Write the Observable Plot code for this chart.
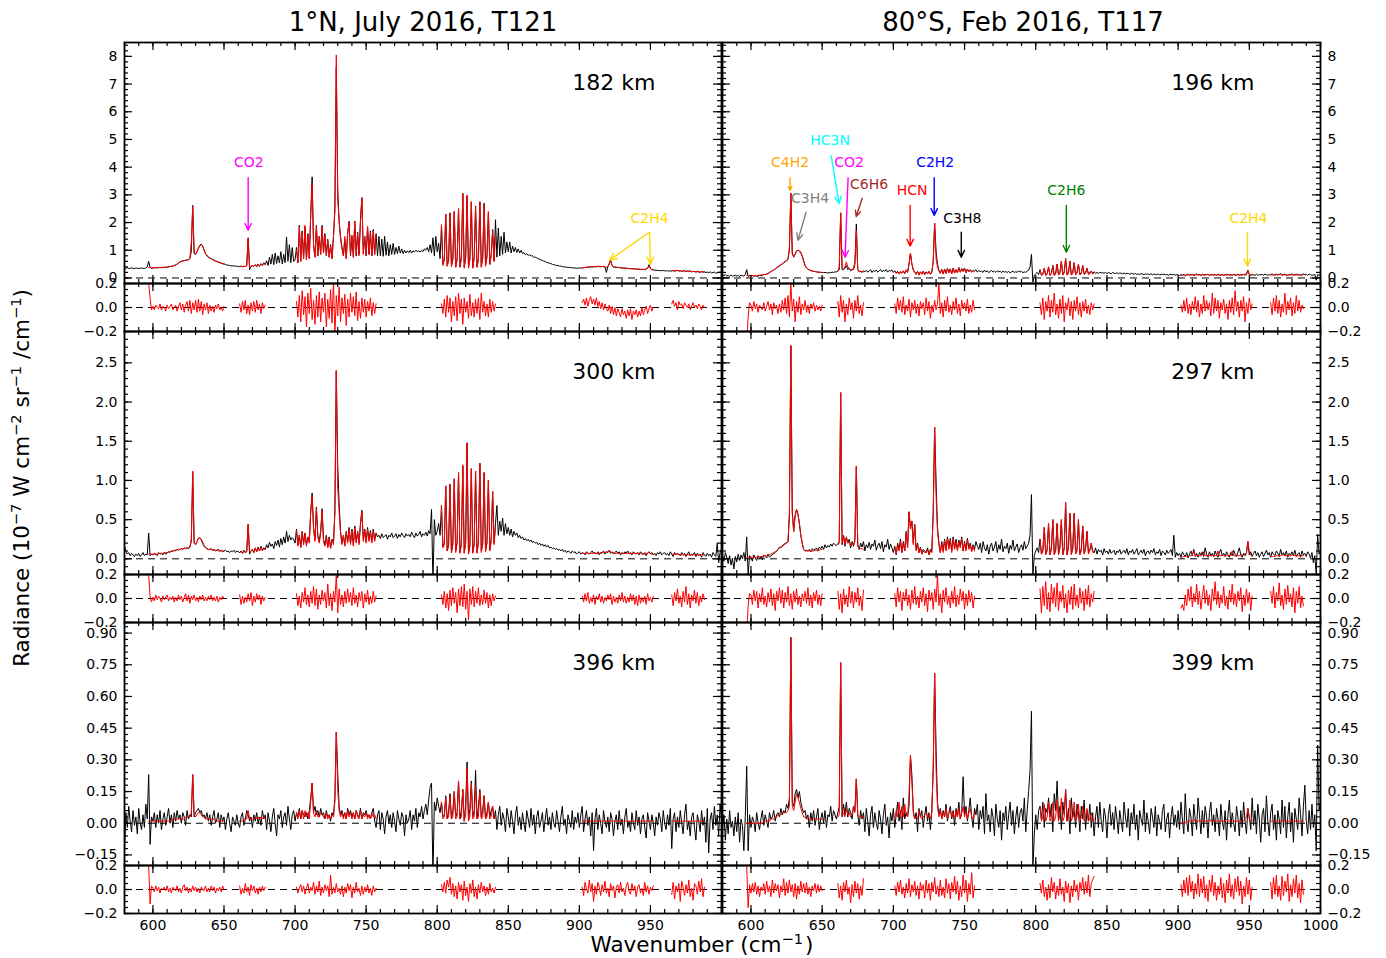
<!DOCTYPE html>
<html><head><meta charset="utf-8">
<script src="https://cdn.jsdelivr.net/npm/d3@7"></script>
<script src="https://cdn.jsdelivr.net/npm/@observablehq/plot@0.6"></script>
<style>
body{margin:0;background:#fff;font-family:"DejaVu Sans",sans-serif;color:#000;}
#fig{position:relative;width:1386px;height:958px;overflow:hidden;background:#fff;}
.lbl{position:absolute;white-space:nowrap;line-height:1;transform:translate(-50%,-50%);}
.lbl sup{font-size:0.68em;vertical-align:0.55em;line-height:0;}
</style></head>
<body><div id="fig"></div>
<script>
// ---------- axes / labels ----------
const X_DOMAIN = [580, 1000];
const X_MAJOR = [600,650,700,750,800,850,900,950,1000];
const X_LABELS_LEFT = [600,650,700,750,800,850,900,950];
const X_LABELS_RIGHT = [600,650,700,750,800,850,900,950,1000];
const Y_DOMAINS = [[-0.2,8.5],[-0.2,2.9],[-0.2,0.95]];
const Y_TICKS_ROW = [[0,1,2,3,4,5,6,7,8],[0,0.5,1,1.5,2,2.5],[-0.15,0,0.15,0.30,0.45,0.60,0.75,0.90]];
const RES_DOMAIN = [-0.2,0.2];
const RES_TICKS = [-0.2,0,0.2];
const TITLES = ["1°N, July 2016, T121","80°S, Feb 2016, T117"];
const ALT_LEFT = ["182 km","300 km","396 km"];
const ALT_RIGHT = ["196 km","297 km","399 km"];
// fitted spectral windows (cm-1)
const WINDOWS = [[597,650],[661,679],[701,757],[803,841],[902,952],[965,988]];
const SCALE = 0.01; // arrays below are radiance in units of 0.01 (1e-7 W cm-2 sr-1 /cm-1), one value per cm-1 from 580

// ---------- 1N 182 km ----------
const OBS_182 = [
/*580*/36,35,37,34,35,36,35,34,36,35, 34,35,36,35,34,36,40,60,38,35,
/*600*/36,37,37,36,38,37,38,37,38,38, 39,40,41,42,43,45,47,50,54,58,
/*620*/60,62,63,64,65,66,70,95,262,88, 85,95,108,118,122,115,100,88,80,75,
/*640*/72,70,67,64,62,60,58,56,54,52, 51,49,47,46,45,44,44,43,43,42,
/*660*/42,41,43,40,42,41,45,145,30,42, 44,42,48,40,50,42,52,45,55,48,
/*680*/62,45,75,50,85,48,90,52,80,55, 95,50,85,55,148,60,120,55,110,60,
/*700*/65,110,55,190,60,170,70,185,65,160, 70,230,365,120,75,190,80,150,85,190,
/*720*/90,160,80,140,75,120,70,150,250,760, 325,200,150,110,80,140,70,160,205,80,
/*740*/150,75,205,80,165,85,210,290,90,150, 80,185,85,170,80,175,85,160,80,150,
/*760*/80,140,78,150,82,130,80,120,85,125, 85,110,88,115,90,105,88,100,90,98,
/*780*/92,100,90,98,94,100,95,98,94,100, 95,105,100,110,95,120,90,145,80,150,
/*800*/95,125,70,190,50,70,230,45,65,235, 45,70,240,40,70,250,40,75,305,40,
/*820*/75,295,40,70,275,38,75,260,40,70, 275,40,75,270,45,80,235,50,85,175,
/*840*/60,210,75,180,80,150,85,165,90,130, 95,130,90,115,95,110,92,105,90,100,
/*860*/88,92,84,88,81,84,79,80,75,75, 73,69,68,65,63,61,60,56,55,53,
/*880*/52,49,48,47,45,45,43,43,41,40, 40,39,38,38,37,37,36,36,35,36,
/*900*/36,35,37,36,38,37,38,39,40,39, 40,41,40,42,41,40,42,41,40,20,
/*920*/40,50,65,45,40,38,39,37,38,36, 37,35,36,34,35,34,33,34,33,32,
/*940*/33,31,32,31,30,31,30,32,35,48, 35,30,29,28,27,28,26,27,26,27,
/*960*/26,25,27,24,26,25,27,24,26,27, 25,26,24,25,27,23,25,24,26,22,
/*980*/24,23,21,24,22,20,23,21,22,20, 21,19,22,18,20,21,17,19,20,22,
/*1000*/20];
const MODEL_182 = [
 [37,37,37, 37,37,37,37,38,38,38,38,39,39, 40,40,41,42,43,45,47,50,54,58, 60,61,62,63,64,66,70,130,258,92, 86,94,106,116,120,115,102,90,82,76, 72,69,66,63,61,59,57,55,53,51, 50],
 [41,42,41,42,42,44,142,36,42, 44,43,47,42,49,44,50,46,53,48],
 [100,55,185,60,165,70,190,65,155, 70,225,340,115,75,185,80,150,85,185, 90,155,80,135,75,115,70,145,240,805, 280,210,140,105,80,150,70,165,200,85, 155,75,205,85,160,80,200,290,85,150, 80,185,85,165,80,170,85,155],
 [192,45,65,230,42,60,235, 40,65,240,38,65,250,38,70,305,35, 70,300,35,68,275,35,70,255,38,65, 275,38,70,265,42,75,240,48,80,170, 60,150],
 [37,38,38,39,40,40,41,41, 41,42,42,42,42,42,41,41,40,38, 42,52,62,45,41,40,39,38,38,37, 37,36,36,35,35,34,34,33,33,33, 32,32,32,31,31,31,31,32,34,44, 34,30,29],
 [26,26,27,28,27,26,26,25,25,25,24,24,24,24,23,23,23,23,22,22,22,22,22,22]];
const RESID_182 = [
 [20,8,-2, 1,-2,2,0,-1,3,-2,1,0,-3, 2,-1,1,3,-2,0,2,-3,1,4, -2,3,-4,2,5,-3,6,-5,4,-2, 6,-4,7,-3,5,-6,3,-2,4,-5, 2,-3,1,-4,2,-1,3,-2,0,-3, 1],
 [3,-4,5,-2,6,-5,2,-6,4,-3, 5,-4,6,-2,3,-5,4,-1,2],
 [5,-8,10,-12,14,-6,9,-16,12,-5, 16,-10,6,-14,10,-8,13,-12,8,-4, 12,-16,7,-9,15,-13,22,-24,10,-7, 17,-12,8,-5,11,-15,7,-8,12,-4, 9,-7,13,-11,5,-9,8,-4,7,-8, 5,-3,8,-7,4,-5,3],
 [3,-5,7,-8,10,-4,8,-12,5,-7, 9,-11,12,-5,7,-14,8,-4,5,-9, 11,-7,4,-8,7,-5,8,-10,12,-4, 5,-7,3,-8,7,-4,5,-3,3],
 [4,7,2,8,1,6,9,3,7,2, 8,1,5,-1,4,-2,3,-1,-3,2, -5,1,-6,0,-7,-1,-4,-8,-1,-6, -3,-9,-2,-7,-1,-10,-3,-6,-2,-8, -3,-7,0,-6,-2,1,-5,-1,2,-3, 0],
 [3,6,1,4,-2,5,2,3,-1,4,2,0,3,-2,1,4,0,2,-1,3,1,-2,2,0]];

// ---------- 80S 196 km ----------
const OBS_196 = [
/*580*/10,8,12,7,9,5,11,6,8,10, 7,9,6,10,8,7,12,30,6,8,
/*600*/7,9,6,8,5,7,9,8,10,12, 12,14,16,20,23,26,29,32,36,40,
/*620*/43,47,51,55,58,62,68,100,305,90, 75,85,98,100,98,92,80,62,45,36,
/*640*/32,29,27,25,24,23,22,21,21,20, 20,19,20,19,18,20,19,21,20,22,
/*660*/22,25,30,235,30,30,35,45,30,35, 26,30,30,50,195,30,22,24,20,26,
/*680*/22,28,21,25,30,20,27,23,29,21, 26,31,22,28,24,30,21,27,25,29,
/*700*/20,26,18,24,15,22,17,25,16,28, 20,50,90,50,30,22,16,24,12,22,
/*720*/15,25,13,22,16,24,14,21,60,198, 95,50,28,18,30,15,32,17,35,20,
/*740*/33,16,36,18,30,20,38,22,34,25, 36,20,32,24,30,22,28,25,30,21,
/*760*/27,23,25,20,28,22,26,19,24,27, 21,25,20,26,22,24,19,25,21,23,
/*780*/20,24,18,22,25,19,23,20,26,21, 24,19,22,20,25,28,40,85,-15,10,
/*800*/15,20,12,30,10,14,35,10,15,40, 10,16,45,10,18,50,12,20,60,12,
/*820*/22,70,12,20,60,12,20,55,14,20, 50,14,18,45,15,20,35,16,20,25,
/*840*/18,22,17,20,16,21,18,19,17,20, 16,19,18,15,20,17,16,19,15,18,
/*860*/17,15,18,14,17,16,13,17,15,14, 16,13,15,12,16,14,12,15,13,14,
/*880*/12,15,11,14,13,12,15,11,13,12, 14,11,13,10,12,14,11,13,10,12,
/*900*/11,9,12,10,13,8,11,14,10,12, 13,9,11,15,10,12,9,13,11,10,
/*920*/12,14,9,11,13,10,12,9,14,11, 10,13,9,12,11,14,10,12,9,13,
/*940*/11,10,14,9,12,11,13,10,12,28, 12,10,13,11,9,14,10,12,11,13,
/*960*/10,14,12,9,13,11,15,10,12,14, 11,13,16,10,12,14,11,9,13,12,
/*980*/15,10,12,14,11,13,9,12,15,11, 13,10,14,12,9,11,13,-8,12,10,
/*1000*/12];
const MODEL_196 = [
 [10,9,9, 8,8,8,9,9,10,10,11,11,12, 13,14,16,19,22,26,29,33,37,41, 44,48,52,56,60,64,70,110,305,85, 76,86,97,100,97,90,78,60,45,37, 32,29,27,25,24,23,22,21,21,20, 20],
 [24,40,235,40,35,40,58,40,35, 30,30,35,60,170,30,25,24,23,22],
 [24,16,22,14,24,18,26,15,30, 22,50,90,52,28,20,12,24,10,22, 13,24,12,20,14,22,13,20,60,198, 70,40,25,16,32,14,30,16,34,18, 32,15,34,17,30,18,36,20,32,22, 34,18,30,22,28,20,26,22],
 [30,10,12,35,9,13,40, 9,14,45,9,15,50,10,16,60,10, 18,70,10,16,60,10,16,55,11,16, 50,11,15,45,12,16,35,12,14,25, 14,18],
 [10,10,10,10,11,11,11,11, 11,12,11,11,12,11,11,11,12,13, 12,12,11,11,11,11,12,11,11,11, 11,11,11,12,11,11,11,11,11,11, 11,11,11,11,11,11,12,13,16,27, 13,11,11],
 [11,11,11,11,11,11,12,11,11,11,11,11,11,11,11,11,11,11,11,11,11,11,11,11]];
const RESID_196 = [
 [-30,-8,4, 2,-3,5,-1,3,-4,2,0,-2,4, -3,1,5,-2,3,-6,4,-1,2,-5, 3,-4,6,-2,8,-5,10,-8,20,-3, 7,-12,5,-4,9,-6,3,-2,6,-4, 2,-5,3,-1,4,-3,2,-2,1,-3, 2],
 [5,-8,10,-4,6,-12,3,-6,8,-2, 4,-9,6,-3,10,-5,2,-7,4],
 [3,-5,8,-2,6,-4,9,-6,2,-3, 7,-8,4,-2,6,-5,3,-7,5,-1, 4,-6,8,-3,5,-9,2,-4,6,-2, 3,20,-5,4,-8,6,-3,9,-4,2, -6,5,-2,8,-5,3,-7,6,-1,4, -3,7,-5,2,-4,6,-2],
 [4,-6,8,-10,5,-3,10,-8,6,-4, 12,-6,3,-9,7,-5,10,-12,4,-2, 8,-7,5,-10,6,-3,9,-6,4,-8, 5,-3,7,-5,2,-6,4,-2,3],
 [2,-4,6,-3,8,-5,3,-6,5,-2, 9,-4,6,-8,3,-5,10,-3,6,-2, 4,-7,12,-5,8,-3,6,-9,4,-2, 7,-5,3,-10,6,-4,8,-6,14,-3, 5,-8,6,-3,9,-12,4,-5,8,-2, 3],
 [4,-6,8,-3,10,-5,6,-8,3,-4, 12,-6,5,-2,8,-7,4,-5,10,-3,6,-4,2,-1]];

// ---------- 1N 300 km ----------
const OBS_300 = [
/*580*/16,10,6,8,4,7,5,3,6,4, 7,3,5,8,4,6,5,33,4,6,
/*600*/5,7,6,4,8,6,7,5,8,6, 7,9,8,10,9,11,10,12,11,12,
/*620*/13,12,14,13,14,13,15,22,110,20, 18,22,26,27,24,20,16,14,13,12,
/*640*/12,13,11,12,10,11,12,10,11,9, 10,11,9,10,8,10,9,11,8,10,
/*660*/9,8,10,7,11,8,9,44,6,10, 12,8,14,9,15,10,16,11,14,12,
/*680*/18,14,21,16,19,13,22,17,24,15, 26,18,28,20,35,22,30,24,27,25,
/*700*/20,38,18,30,15,35,20,33,18,28, 22,60,84,40,25,66,30,22,35,64,
/*720*/25,18,30,15,28,14,25,20,60,240, 120,70,35,20,30,18,35,22,40,20,
/*740*/38,18,42,22,35,20,45,62,25,38, 22,40,24,36,22,38,25,33,28,30,
/*760*/26,32,27,29,31,25,30,28,33,27, 29,32,26,31,28,33,30,27,32,29,
/*780*/31,28,34,30,27,33,29,31,35,28, 32,30,34,29,36,32,63,-30,50,30,
/*800*/35,45,30,68,15,20,93,10,18,95, 8,20,102,10,22,110,8,20,118,8,
/*820*/22,148,6,18,115,8,20,112,8,22, 122,10,20,110,10,22,100,12,25,86,
/*840*/20,45,68,30,48,35,52,30,45,32, 40,30,38,28,35,30,33,27,30,26,
/*860*/28,24,26,23,25,22,24,21,22,20, 21,18,20,17,19,16,18,15,17,14,
/*880*/15,13,14,12,13,11,12,10,12,9, 11,8,10,9,7,10,8,9,6,8,
/*900*/9,6,8,7,5,9,7,6,8,10, 7,8,6,9,5,8,7,10,6,9,
/*920*/8,11,7,9,6,8,10,7,9,5, 8,6,9,7,10,6,8,5,9,7,
/*940*/6,8,5,9,7,6,8,4,7,9, 6,8,5,7,4,8,6,9,5,7,
/*960*/8,5,7,4,9,6,3,8,5,7, 6,4,8,5,7,3,6,9,4,6,
/*980*/5,8,3,7,4,6,2,8,5,3, 7,4,6,2,8,5,3,20,-5,8,
/*1000*/12];
const MODEL_300 = [
 [6,6,6, 6,6,6,6,7,7,7,7,8,8, 8,9,9,10,10,11,11,12,12,12, 13,13,13,13,14,14,15,25,112,20, 18,22,26,27,25,21,17,15,13,12, 12,12,11,11,11,11,10,10,10,10, 10],
 [8,9,8,9,9,10,44,8,10, 12,8,14,9,14,10,15,10,13,12],
 [36,16,30,14,34,18,33,16,28, 20,60,80,38,22,64,28,20,32,62, 22,16,28,14,26,13,24,18,58,240, 90,60,32,18,30,16,34,20,38,18, 36,16,40,20,34,18,44,60,22,36, 20,38,22,34,20,36,22,32],
 [66,14,18,93,10,16,95, 8,18,102,8,20,110,7,18,120,7, 20,148,6,16,115,7,18,112,7,20, 122,8,18,110,9,20,100,10,22,86, 18,40],
 [7,7,7,7,7,7,7,7, 7,7,7,7,7,8,8,8,8,9, 9,10,9,8,8,7,7,7,7,7, 7,7,7,7,7,7,7,7,7,7, 7,7,7,7,6,6,6,7,7,9, 7,6,6],
 [6,6,6,6,6,5,5,5,5,5,5,5,5,5,5,5,5,5,5,5,5,5,5,5]];
const RESID_300 = [
 [20,2,-3, 1,-2,3,-1,2,0,-3,2,-1,1, 3,-2,1,-1,2,-3,1,-2,3,-1, 2,-3,1,4,-2,3,-4,2,-1,3, -2,1,-3,2,-1,3,-2,1,-2,2, -1,3,-2,1,-2,2,-3,1,-1,2, 0],
 [3,-5,2,-4,1,-3,4,-2,5,-6, 2,-3,4,-1,3,-5,2,-2,1],
 [4,-6,2,-8,5,-3,9,-5,3,-7, 6,-4,10,-6,8,-9,3,-5,7,-2, 5,-8,12,-6,4,-10,6,-3,20,-12, 8,-5,3,-7,6,-4,8,-3,5,-6, 9,-4,3,-7,5,-2,6,-8,4,-3, 7,-5,2,-4,6,-3,2],
 [3,-5,6,-8,4,-10,7,-6,9,-4, 5,-12,8,-6,10,-7,12,-9,6,-18, 8,-5,10,-7,6,-4,9,-6,3,-5, 7,-4,5,-8,3,-6,4,-2,2],
 [2,-3,4,-2,5,-4,1,-3,3,-5, 2,-1,4,-3,2,-4,1,-2,3,-1, 4,-5,2,-3,1,-4,3,-2,5,-3, 2,-4,1,-3,4,-2,3,-5,2,-6, 3,-4,1,-3,2,-5,4,-2,1,-3, 2],
 [3,-6,5,-2,8,-4,2,-7,6,-3,10,-5,4,-8,3,-2,7,-4,5,-6,2,-3,4,-1]];

// ---------- 80S 297 km ----------
const OBS_297 = [
/*580*/5,-3,8,2,-6,4,-8,1,-13,3, -4,6,-2,5,0,8,-3,28,-20,4,
/*600*/2,-3,5,1,-2,4,0,3,-1,5, 3,1,6,2,4,5,7,8,10,12,
/*620*/15,14,17,18,20,20,22,55,272,60, 35,55,63,57,45,30,20,12,10,11,
/*640*/10,12,9,13,11,12,14,10,15,13, 16,12,18,14,17,15,19,16,20,18,
/*660*/17,19,22,212,18,30,16,28,20,25, 14,22,16,25,118,18,12,20,15,22,
/*680*/10,18,14,21,12,19,16,24,11,17, 20,13,22,9,18,15,25,12,19,14,
/*700*/8,16,5,20,12,25,8,22,10,35, 15,60,40,48,20,44,12,20,8,15,
/*720*/6,12,10,8,14,5,12,9,60,168, 98,40,20,8,22,10,25,12,28,15,
/*740*/26,10,28,14,25,12,24,16,28,10, 22,12,26,14,20,10,18,12,22,16,
/*760*/12,20,8,22,14,10,18,6,16,20, 10,15,22,8,18,12,25,9,16,13,
/*780*/20,7,17,12,24,10,15,19,8,14, 18,11,22,13,16,20,30,82,-22,5,
/*800*/10,14,8,25,6,10,40,6,12,45, 5,14,50,6,12,45,6,16,50,5,
/*820*/14,72,5,16,58,6,14,58,7,12, 50,6,12,42,7,14,35,8,12,20,
/*840*/10,8,14,6,12,9,11,5,13,8, 10,6,12,7,9,11,5,10,8,12,
/*860*/6,9,11,7,13,5,10,8,12,6, 9,13,5,8,11,7,12,4,9,10,
/*880*/6,11,8,13,5,9,7,12,4,10, 8,5,11,7,9,12,4,30,2,8,
/*900*/4,7,2,9,5,3,8,1,6,10, 4,12,3,7,2,8,5,9,3,14,
/*920*/6,2,9,4,7,3,10,5,2,8, 12,4,7,3,9,5,2,8,4,11,
/*940*/6,3,9,14,5,2,7,4,8,22, 5,9,3,7,10,4,8,2,6,9,
/*960*/3,7,11,5,8,2,9,6,4,10, 7,3,12,5,8,4,10,2,7,5,
/*980*/9,4,11,3,6,8,2,10,5,7, 3,9,6,1,8,-5,4,-20,31,6,
/*1000*/10];
const MODEL_297 = [
 [2,2,2, 2,2,2,2,2,3,3,3,3,4, 4,4,5,5,6,7,8,9,10,12, 14,15,16,17,19,20,22,60,272,58, 35,55,63,57,45,30,20,12,10,10, 10,10,10,10,10,11,11,11,11,12, 12],
 [18,20,212,20,30,18,28,20,22, 16,20,18,22,118,16,14,13,13,12],
 [14,6,18,10,22,8,20,10,34, 14,60,38,48,18,44,10,18,8,14, 6,10,8,8,12,5,10,8,58,168, 80,35,18,8,20,8,24,10,26,12, 24,8,26,12,22,10,22,14,26,10, 20,10,24,12,18,9,16,10],
 [25,6,10,40,5,10,45, 5,12,50,5,10,45,5,14,50,5, 12,72,5,14,58,5,12,58,6,10, 50,5,10,42,6,12,35,6,10,20, 8,8],
 [2,2,3,3,3,3,4,4, 5,10,4,4,4,4,4,5,9,4, 4,4,4,4,4,4,4,4,10,4, 4,4,4,4,4,4,4,4,10,4, 4,4,4,4,5,5,5,6,8,22, 8,5,4],
 [3,3,3,3,4,4,4,4,5,5,4,4,4,4,4,5,5,4,4,4,4,4,4,4]];
const RESID_297 = [
 [-30,-6,4, 3,-5,7,-2,6,-8,4,-3,9,-5, 2,-7,5,-3,8,-6,4,-10,6,-2, 9,-4,7,-8,5,-3,10,-6,4,-9, 6,-3,8,-5,2,-7,4,-2,6,-4, 9,-6,3,-8,5,-2,7,-5,3,-6, 4],
 [6,-9,4,-12,8,-5,3,-7,10,-4, 6,-8,5,-3,9,-6,2,-10,7],
 [4,-7,9,-3,6,-10,5,-2,8,-6, 3,-9,7,-4,10,-5,2,-8,6,-3, 9,-6,4,-11,7,-2,5,-9,8,-3, 20,-6,4,-12,7,-3,9,-5,2,-8, 6,-4,10,-7,3,-5,8,-2,6,-9, 4,-6,7,-3,5,-8,2],
 [8,-12,10,-6,14,-9,5,-11,12,-4, 9,-7,13,-10,6,-3,11,-8,4,-12, 7,-5,10,-9,12,-6,3,-8,9,-4, 6,-10,8,-5,11,-7,4,-3,6],
 [-8,-5,-10,3,-6,8,-2,10,-7,4, -3,12,-5,6,-9,2,11,-4,7,-6, 3,-10,8,-2,14,-5,6,-8,3,-4, 10,-6,2,-9,7,-3,12,-5,4,-7, 6,-2,9,-11,3,-6,8,-4,5,-10, 2],
 [6,-4,10,-8,5,-2,13,-6,3,-9,8,-5,11,-3,4,-7,9,-12,6,-4,10,-8,2,-6]];

// ---------- 1N 396 km ----------
const OBS_396 = [
/*580*/-13,5,-2,8,1,-4,6,-1,3,-5, 7,0,-3,4,-2,9,2,23,-10,3,
/*600*/1,5,-2,4,0,6,-3,2,5,-1, 3,7,0,4,-2,5,1,6,2,4,
/*620*/0,5,3,-1,6,2,4,3,23,3, 5,6,7,5,6,3,4,2,5,1,
/*640*/4,-1,3,6,0,2,5,-2,4,1, 3,-3,2,5,0,-4,3,1,-1,4,
/*660*/0,-2,3,5,-1,2,6,4,1,3, -2,4,1,5,0,3,-1,6,2,4,
/*680*/-3,5,1,-4,3,7,0,-6,4,2, 6,-2,3,5,-1,8,2,-3,4,6,
/*700*/1,5,3,7,2,6,4,3,5,2, 6,12,19,5,8,4,6,3,7,4,
/*720*/5,2,6,3,4,1,5,3,12,43, 24,8,4,6,3,5,2,7,4,6,
/*740*/3,5,2,6,4,3,7,2,5,4, 6,3,4,2,5,7,1,-2,4,6,
/*760*/-3,5,2,-5,3,6,0,4,-2,5, 1,-4,6,2,-1,5,3,-6,4,0,
/*780*/2,6,-3,4,1,7,-2,5,3,8, 2,6,9,4,11,17,19,-25,10,6,
/*800*/12,8,5,10,3,4,13,2,5,14, 2,6,15,3,5,20,2,6,16,1,
/*820*/8,29,2,7,20,3,6,25,2,8, 16,3,6,13,2,5,10,3,6,8,
/*840*/2,6,-3,4,8,-1,5,2,-4,7, 3,-2,6,1,-5,4,8,-1,3,-3,
/*860*/5,0,-4,6,2,-2,7,-1,4,-5, 3,6,-2,1,5,-4,2,7,-1,3,
/*880*/-3,5,0,-2,6,1,-4,3,8,-1, 2,-5,4,1,-2,6,-3,3,0,5,
/*900*/-2,4,8,-4,2,6,-1,3,-6,5, -13,2,7,-3,4,0,-5,6,1,-2,
/*920*/3,-4,5,2,-6,1,4,-3,6,-1, 2,-5,3,7,-2,1,-4,5,0,-3,
/*940*/6,-1,3,-5,2,4,-2,-7,5,1, -3,4,0,-6,3,-1,5,2,-4,6,
/*960*/0,-3,4,-1,7,-12,2,5,-4,3, -2,6,0,-5,4,9,-3,1,-6,3,
/*980*/5,-2,-8,4,1,-4,6,-1,3,-9, 7,-14,2,5,-3,8,-1,4,-6,9,
/*1000*/2];
const MODEL_396 = [
 [1,1,1, 1,1,1,1,1,1,1,1,1,1, 1,1,1,1,2,2,2,2,2,2, 2,2,2,3,3,3,3,5,23,4, 3,4,5,5,4,3,3,2,2,2, 2,2,2,2,1,1,1,1,1,1, 1],
 [1,1,1,2,2,2,6,2,2, 2,2,3,2,3,2,3,2,3,2],
 [5,2,6,2,6,2,6,3,5, 2,10,19,5,3,6,3,3,5,4, 3,2,5,2,4,2,4,3,10,43, 16,6,3,5,2,5,2,6,3,5, 2,5,2,6,3,2,6,2,4,3, 5,2,4,2,5,3,4,2],
 [10,2,3,12,2,3,13, 2,3,15,2,3,20,2,3,16,1, 4,26,1,3,19,2,3,17,2,3, 15,2,3,13,2,3,10,2,3,8, 2,3],
 [1,1,1,1,1,1,1,1, 1,1,1,1,1,1,1,1,1,1, 1,1,1,1,1,1,1,1,1,1, 1,1,1,1,1,1,1,1,1,1, 1,1,1,1,1,1,1,1,1,1, 1,1,1],
 [1,1,1,1,1,1,1,1,1,1,1,1,1,1,1,1,1,1,1,1,1,1,1,1]];
const RESID_396 = [
 [20,-12,3, 1,-2,3,-1,2,-3,1,0,2,-1, 3,-2,1,-3,2,0,-1,3,-2,1, -3,2,4,-1,2,-3,1,-2,3,-1, 2,-2,1,-3,2,0,-1,3,-2,1, -2,3,-1,2,-3,1,-1,2,-2,3, 0],
 [3,-4,1,-3,5,-2,2,-5,4,-1, 3,-3,1,-4,2,-2,3,-1,2],
 [2,-3,1,4,-2,3,-4,1,5,-3, 2,-1,6,-4,3,-2,7,-5,2,-3, 4,-1,3,-6,12,-4,2,-3,5,-2, 1,-4,3,-6,2,-3,5,-1,4,-7, 2,-3,6,-2,1,-5,3,-4,2,-2, 4,-3,1,-5,3,-2,1],
 [4,-2,6,-3,8,2,10,-4,5,-6, 3,-8,6,-2,4,-9,7,-5,2,-10, 5,-3,8,-6,2,-8,4,-3,6,-2, 3,-5,2,-4,5,-2,1,-3,2],
 [2,-5,6,1,-3,8,-2,5,-10,3, -4,6,2,-5,4,-2,7,-3,1,-6, 5,-1,3,-7,2,4,-3,6,-2,1, -5,3,6,-2,-4,5,-1,3,-6,2, 4,-3,1,-5,6,-2,3,-4,2,-1, 3],
 [-4,6,-8,3,-2,5,-10,7,2,-5,4,-3,8,-6,1,-9,5,3,-4,7,-2,9,-6,2]];

// ---------- 80S 399 km ----------
const OBS_399 = [
/*580*/-3,4,-8,2,-5,6,-2,1,-6,3, -4,5,-9,2,-1,-13,3,27,-13,4,
/*600*/-2,3,1,-4,5,0,-3,2,6,-1, 4,1,-2,5,2,3,6,1,4,5,
/*620*/3,7,4,6,5,9,7,12,88,10, 8,14,16,12,15,10,7,5,6,2,
/*640*/4,-2,5,1,6,-1,3,7,-3,2, 5,0,6,-2,4,3,8,1,6,4,
/*660*/2,5,8,76,3,9,4,10,3,7, 5,2,8,6,21,4,-1,6,2,5,
/*680*/-4,7,1,-6,4,8,-2,5,0,-3, 6,2,-5,4,9,-1,3,-7,5,1,
/*700*/7,-2,4,10,1,6,-3,12,2,5, 3,8,32,23,6,2,5,-4,7,3,
/*720*/6,-2,4,8,1,5,-3,6,26,71, 35,10,4,7,2,6,3,9,1,5,
/*740*/8,2,6,-1,7,3,10,2,5,22, 4,8,1,6,12,3,-2,7,4,9,
/*760*/-3,6,2,8,-5,14,1,4,-4,7, 3,-6,9,2,-2,6,-8,5,1,8,
/*780*/-3,4,10,-1,6,-5,3,8,-2,5, 7,1,12,-4,6,15,25,53,-22,-5,
/*800*/4,-3,6,8,2,10,-2,7,5,12, 3,9,-4,14,6,20,2,8,-3,10,
/*820*/4,16,1,7,-5,12,3,6,-2,9, 5,-4,8,2,11,-3,6,1,9,-2,
/*840*/5,-6,3,8,-2,10,1,-4,7,3, -7,4,9,-1,5,-3,8,2,-5,6,
/*860*/1,-4,10,3,-2,7,-6,5,0,9, -3,4,-8,6,2,-1,11,-4,5,1,
/*880*/-5,7,3,-2,8,-6,4,1,-3,6, 9,-4,2,5,-7,3,8,-1,4,-2,
/*900*/6,-3,10,2,-5,14,1,-4,7,3, -6,9,2,-3,12,4,-5,6,-2,8,
/*920*/3,-7,5,10,-1,4,-4,7,2,-6, 9,1,-3,6,-8,4,11,-2,5,0,
/*940*/-4,8,3,-6,6,-2,10,1,-5,7, 3,-3,12,-1,6,-5,9,2,-9,4,
/*960*/7,-4,13,1,-6,5,9,-3,4,-8, 6,2,-5,11,-2,8,-7,3,10,-4,
/*980*/5,-9,7,2,-3,12,4,-6,8,18, 1,-5,6,-3,9,-2,4,-13,37,6,
/*1000*/10];
const MODEL_399 = [
 [0,0,0, 0,0,0,0,0,0,0,0,0,1, 1,1,1,1,2,2,2,3,3,4, 4,4,5,5,5,5,6,8,88,8, 6,10,14,12,10,7,5,3,3,2, 2,2,2,2,2,2,2,2,2,2, 2],
 [3,4,76,4,5,3,7,4,5, 3,4,8,5,21,4,3,3,3,3],
 [2,6,3,10,2,8,3,9,4, 3,14,32,20,5,2,3,2,6,3, 2,3,4,5,3,4,2,5,26,71, 25,8,3,6,2,5,3,7,2,5, 6,3,5,2,6,3,7,2,5,8, 3,6,2,5,7,3,2,5],
 [8,1,3,9,1,3,10, 1,3,10,1,3,11,1,4,12,1, 3,16,1,3,11,1,3,10,1,3, 9,1,3,8,1,3,7,1,2,5, 1,2],
 [0,0,0,0,1,1,1,1, 1,1,2,1,1,1,1,1,1,1, 1,1,2,1,1,1,1,1,1,1, 1,1,1,1,2,1,1,1,1,1, 1,1,1,1,1,1,1,2,3,7, 2,1,1],
 [1,1,1,1,1,1,1,1,1,1,2,1,1,1,1,1,1,1,1,1,1,1,1,1]];
const RESID_399 = [
 [20,-15,4, -3,5,-2,6,-4,3,-6,2,-1,5, -4,7,-2,3,-6,8,-3,5,-1,4, -7,3,-2,9,-5,6,-3,8,-2,4, -6,5,-8,3,-4,7,-2,5,-3,6, -4,2,-6,3,-1,5,-3,4,-2,3, -1],
 [5,-7,3,-9,6,-2,8,-4,2,-11, 4,-6,7,-3,5,-8,3,-5,9],
 [3,-5,6,-2,8,-4,2,-7,5,-3, 9,-6,4,-2,7,-5,3,-8,6,-1, 4,-7,8,-3,5,-9,6,-2,10,-4, 3,-6,8,-5,2,-7,9,-3,5,-8, 6,-2,11,-4,7,-9,3,-6,12,-3, 8,-10,5,-4,14,-7,3],
 [5,-3,8,-6,2,-9,4,-7,10,-2, 6,-8,3,-5,9,-4,2,-10,7,-3, 5,-11,3,-6,8,-2,4,-9,6,-1, 10,-4,7,-3,12,-6,5,8,11],
 [4,-6,8,-3,10,-5,12,-2,7,-8, 5,-4,13,-6,9,-3,11,-7,4,-10, 8,-2,12,-5,6,-9,3,-4,10,-7, 5,-11,8,-3,13,-6,4,-8,9,-2, 11,-5,7,-12,3,-6,10,-4,8,-9, 2],
 [6,-8,10,-4,12,-6,3,-9,11,-5,7,-2,13,-10,4,-6,9,-3,12,-7,5,-11,8,-4]];

// ---------- annotations (wavenumber, radiance) ----------
const LABELS_TL = [{name:"CO2",color:"#ff00ff",x:667.5,y:4.16},{name:"C2H4",color:"#ffd700",x:949.4,y:2.15}];
const ARROWS_TL = [{color:"#ff00ff",x1:667,y1:3.62,x2:667,y2:1.72},{color:"#ffd700",x1:949.4,y1:1.65,x2:921.3,y2:0.65},{color:"#ffd700",x1:949.4,y1:1.65,x2:950,y2:0.5}];
const LABELS_TR = [
 {name:"C4H2",color:"#ffa500",x:627.5,y:4.16},{name:"C3H4",color:"#808080",x:641.5,y:2.87},
 {name:"HC3N",color:"#00ffff",x:655.6,y:4.95},{name:"CO2",color:"#ff00ff",x:668.9,y:4.16},
 {name:"C6H6",color:"#a52a2a",x:683,y:3.37},{name:"HCN",color:"#ff0000",x:713.2,y:3.16},
 {name:"C2H2",color:"#0000ff",x:729.4,y:4.16},{name:"C3H8",color:"#000000",x:748.4,y:2.15},
 {name:"C2H6",color:"#008000",x:821.5,y:3.16},{name:"C2H4",color:"#ffd700",x:949.4,y:2.15}];
const ARROWS_TR = [
 {color:"#ffa500",x1:627.5,y1:3.62,x2:627.5,y2:3.16},{color:"#808080",x1:638.7,y1:2.37,x2:633,y2:1.36},
 {color:"#00ffff",x1:656.3,y1:4.41,x2:661.9,y2:2.69},{color:"#ff00ff",x1:668.2,y1:3.62,x2:666.1,y2:0.75},
 {color:"#a52a2a",x1:678.1,y1:2.87,x2:673.9,y2:2.22},{color:"#ff0000",x1:711.8,y1:2.62,x2:711.8,y2:1.15},
 {color:"#0000ff",x1:728.7,y1:3.62,x2:728.7,y2:2.26},{color:"#000000",x1:747.7,y1:1.65,x2:747.7,y2:0.75},
 {color:"#008000",x1:821.5,y1:2.62,x2:821.5,y2:0.93},{color:"#ffd700",x1:948.7,y1:1.65,x2:948.7,y2:0.43}];

// ---------- layout ----------
const fig = document.getElementById("fig");
const COL_GEOM = [{x:124,w:597,side:"left",xLabels:X_LABELS_LEFT,tc:423},{x:722,w:598,side:"right",xLabels:X_LABELS_RIGHT,tc:1023}];
const ROW_GEOM = [{my:42,mh:241,ry:283,rh:48},{my:331,mh:243,ry:574,rh:48},{my:622,mh:243,ry:865,rh:48}];
const ROW_FMT = [d3.format("d"), d3.format(".1f"), d3.format(".2f")];
const ROW_MINOR = [0.2, 0.1, 0.03];
const PANELS = [
 {col:0,row:0,obs:OBS_182,model:MODEL_182,resid:RESID_182,alt:ALT_LEFT[0],labels:LABELS_TL,arrows:ARROWS_TL},
 {col:1,row:0,obs:OBS_196,model:MODEL_196,resid:RESID_196,alt:ALT_RIGHT[0],labels:LABELS_TR,arrows:ARROWS_TR},
 {col:0,row:1,obs:OBS_300,model:MODEL_300,resid:RESID_300,alt:ALT_LEFT[1]},
 {col:1,row:1,obs:OBS_297,model:MODEL_297,resid:RESID_297,alt:ALT_RIGHT[1]},
 {col:0,row:2,obs:OBS_396,model:MODEL_396,resid:RESID_396,alt:ALT_LEFT[2]},
 {col:1,row:2,obs:OBS_399,model:MODEL_399,resid:RESID_399,alt:ALT_RIGHT[2]}];

function toSeries(arr){ return arr.map((v,i)=>({wn:X_DOMAIN[0]+i, v:v*SCALE})); }
function toWindows(arrs){ const out=[]; arrs.forEach((a,k)=>a.forEach((v,j)=>out.push({wn:WINDOWS[k][0]+j, v:v*SCALE, seg:k}))); return out; }

function boxMarks(fw, fh, ydom, majorY, minorStep, fmt, side){
  const eps=1e-9;
  const minorY = d3.range(Math.ceil(ydom[0]/minorStep-eps), Math.floor(ydom[1]/minorStep+eps)+1).map(k=>+(k*minorStep).toFixed(4));
  const xMinor = d3.range(580,1001,10);
  const tk = {stroke:"black", strokeWidth:1.2};
  return [
    Plot.tickX(X_MAJOR,{x:d=>d, insetBottom:fh-8, ...tk}),
    Plot.tickX(X_MAJOR,{x:d=>d, insetTop:fh-8, ...tk}),
    Plot.tickX(xMinor,{x:d=>d, insetBottom:fh-4, ...tk}),
    Plot.tickX(xMinor,{x:d=>d, insetTop:fh-4, ...tk}),
    Plot.tickY(majorY,{y:d=>d, insetRight:fw-8, ...tk}),
    Plot.tickY(majorY,{y:d=>d, insetLeft:fw-8, ...tk}),
    Plot.tickY(minorY,{y:d=>d, insetRight:fw-4, ...tk}),
    Plot.tickY(minorY,{y:d=>d, insetLeft:fw-4, ...tk}),
    Plot.frame({stroke:"black", strokeWidth:1.8}),
    Plot.text(majorY,{y:d=>d, text:d=>fmt(d), frameAnchor:side, textAnchor:side==="left"?"end":"start", dx:side==="left"?-7:7, fontSize:14, fill:"black"})
  ];
}

function mount(marks, fx, fy, fw, fh, ydom, mB){
  const mL=62, mR=62, mT=12;
  const svg = Plot.plot({
    width:fw+mL+mR, height:fh+mT+mB, marginLeft:mL, marginRight:mR, marginTop:mT, marginBottom:mB,
    x:{domain:X_DOMAIN, axis:null}, y:{domain:ydom, axis:null}, color:{type:"identity"},
    style:{background:"transparent", overflow:"visible", fontFamily:"'DejaVu Sans', sans-serif", color:"black"},
    marks
  });
  svg.style.position="absolute"; svg.style.left=(fx-mL)+"px"; svg.style.top=(fy-mT)+"px";
  fig.appendChild(svg);
}

const dash = {stroke:"black", strokeWidth:1, strokeDasharray:"7,5"};
PANELS.forEach(p=>{
  const c = COL_GEOM[p.col], r = ROW_GEOM[p.row], ydom = Y_DOMAINS[p.row];
  const main = [
    Plot.ruleY([0], dash),
    Plot.line(toSeries(p.obs), {x:"wn", y:"v", stroke:"black", strokeWidth:1, clip:true}),
    Plot.line(toWindows(p.model), {x:"wn", y:"v", z:"seg", stroke:"red", strokeWidth:1, clip:true}),
    Plot.text([p.alt], {text:d=>d, frameAnchor:"top-right", textAnchor:"end", lineAnchor:"middle", dx:-66, dy:40, fontSize:22, fill:"black"})
  ];
  if (p.labels){
    main.push(Plot.arrow(p.arrows, {x1:"x1", y1:"y1", x2:"x2", y2:"y2", stroke:"color", strokeWidth:1.4, headLength:8, headAngle:50}));
    main.push(Plot.text(p.labels, {x:"x", y:"y", text:"name", fill:"color", fontSize:14}));
  }
  main.push(...boxMarks(c.w, r.mh, ydom, Y_TICKS_ROW[p.row], ROW_MINOR[p.row], ROW_FMT[p.row], c.side));
  mount(main, c.x, r.my, c.w, r.mh, ydom, 12);

  const res = [
    Plot.ruleY([0], dash),
    Plot.line(toWindows(p.resid), {x:"wn", y:"v", z:"seg", stroke:"red", strokeWidth:1, clip:true}),
    ...boxMarks(c.w, r.rh, RES_DOMAIN, RES_TICKS, 0.05, d3.format(".1f"), c.side)
  ];
  if (p.row===2) res.push(Plot.text(c.xLabels, {x:d=>d, text:d=>String(d), frameAnchor:"bottom", lineAnchor:"top", dy:7, fontSize:14, fill:"black"}));
  mount(res, c.x, r.ry, c.w, r.rh, RES_DOMAIN, 35);
});

function addLabel(html, x, y, size, rotate){
  const d = document.createElement("div");
  d.className="lbl"; d.innerHTML=html;
  d.style.left=x+"px"; d.style.top=y+"px"; d.style.fontSize=size+"px";
  if (rotate) d.style.transform="translate(-50%,-50%) rotate(-90deg)";
  fig.appendChild(d);
}
addLabel(TITLES[0], COL_GEOM[0].tc, 22, 26);
addLabel(TITLES[1], COL_GEOM[1].tc, 22, 26);
addLabel("Wavenumber (cm<sup>−1</sup>&#8202;)", 702, 945, 21.5);
addLabel("Radiance (10<sup>−7</sup> W cm<sup>−2</sup> sr<sup>−1</sup> /cm<sup>−1</sup>)", 22, 478, 21.5, true);
</script>
</body></html>
